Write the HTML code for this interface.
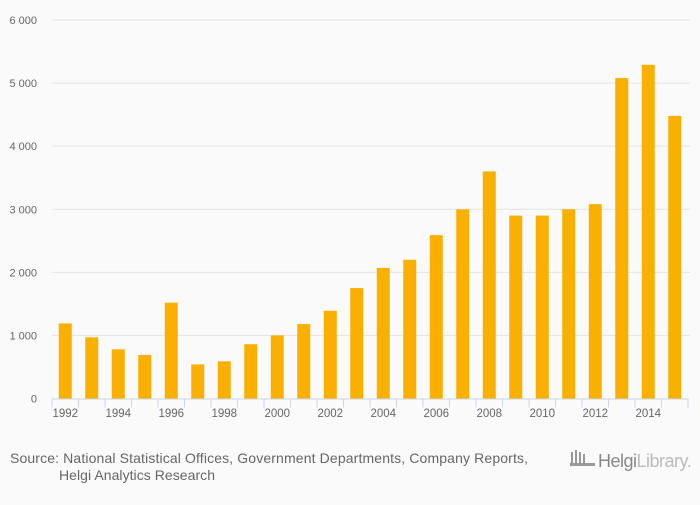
<!DOCTYPE html>
<html><head><meta charset="utf-8"><style>
body{margin:0;background:#fafafa;font-family:"Liberation Sans",sans-serif;}
svg text{font-family:"Liberation Sans",sans-serif;}
</style></head><body>
<svg id="chart" width="700" height="500" xmlns="http://www.w3.org/2000/svg">
<rect width="700" height="500" fill="#fafafa"/>
<g id="grid"></g><g id="bars"></g><g id="axis"></g>
<text x="10" y="463" font-size="14" fill="#666" textLength="518" lengthAdjust="spacing">Source: National Statistical Offices, Government Departments, Company Reports,</text>
<text x="59" y="480" font-size="14" fill="#666" textLength="156" lengthAdjust="spacing">Helgi Analytics Research</text>
<g>
<g fill="#999"><rect x="571" y="452" width="2" height="12"/><rect x="575" y="450" width="2" height="14"/><rect x="579" y="452" width="2" height="12"/><rect x="583" y="454" width="2" height="10"/><rect x="570" y="463" width="25" height="3"/></g>
<text x="598" y="467" font-size="18" fill="#888" letter-spacing="-0.5">Helgi<tspan fill="#bbb">Library.</tspan></text>
</g>
</svg>
<script>
const years=["1992","1993","1994","1995","1996","1997","1998","1999","2000","2001","2002","2003","2004","2005","2006","2007","2008","2009","2010","2011","2012","2013","2014","2015"];
const values=[1190,970,780,690,1520,540,590,860,1000,1180,1390,1750,2070,2200,2590,3000,3600,2900,2900,3000,3080,5080,5290,4480];
const yTicks=[0,1000,2000,3000,4000,5000,6000];
const yTickLabels=["0","1 000","2 000","3 000","4 000","5 000","6 000"];
const NS="http://www.w3.org/2000/svg";
const x0=52,x1=688,y0=398.5,yTop=20,yMax=6000;
const band=(x1-x0)/years.length;
const yS=v=>y0-(v/yMax)*(y0-yTop);
const xS=i=>x0+i*band;
function mk(t,a,p){const e=document.createElementNS(NS,t);for(const k in a)e.setAttribute(k,a[k]);p.appendChild(e);return e;}
const grid=document.getElementById('grid'),bars=document.getElementById('bars'),axis=document.getElementById('axis');
yTicks.forEach((v,i)=>{
 if(v>0){const l=mk('line',{x1:x0,x2:x1+2,y1:yS(v),y2:yS(v),stroke:'#e3e3e3','stroke-width':1},grid);
 
 }
 const t=mk('text',{x:37,y:yS(v)+4,'font-size':11,fill:'#666','text-anchor':'end'},grid);
 t.textContent=yTickLabels[i];
 
 
});
values.forEach((v,i)=>{
 const r=mk('rect',{x:xS(i)+band/2-6.5,y:yS(v),width:13,height:y0-yS(v),fill:'#f9b000'},bars);
 
 
});
const ax=mk('line',{x1:x0,x2:x1,y1:y0+0.5,y2:y0+0.5,stroke:'#c9d5e8','stroke-width':1},axis);


for(let i=0;i<=years.length;i++){
 const tk=mk('line',{x1:xS(i),x2:xS(i),y1:y0,y2:y0+9,stroke:'#c9d5e8','stroke-width':1},axis);
 
 
}
years.forEach((y,i)=>{
 if(i%2)return;
 const t=mk('text',{x:xS(i)+band/2,y:417,'font-size':11.5,fill:'#666','text-anchor':'middle'},axis);
 t.textContent=y;
 
 
});
</script>
</body></html>
